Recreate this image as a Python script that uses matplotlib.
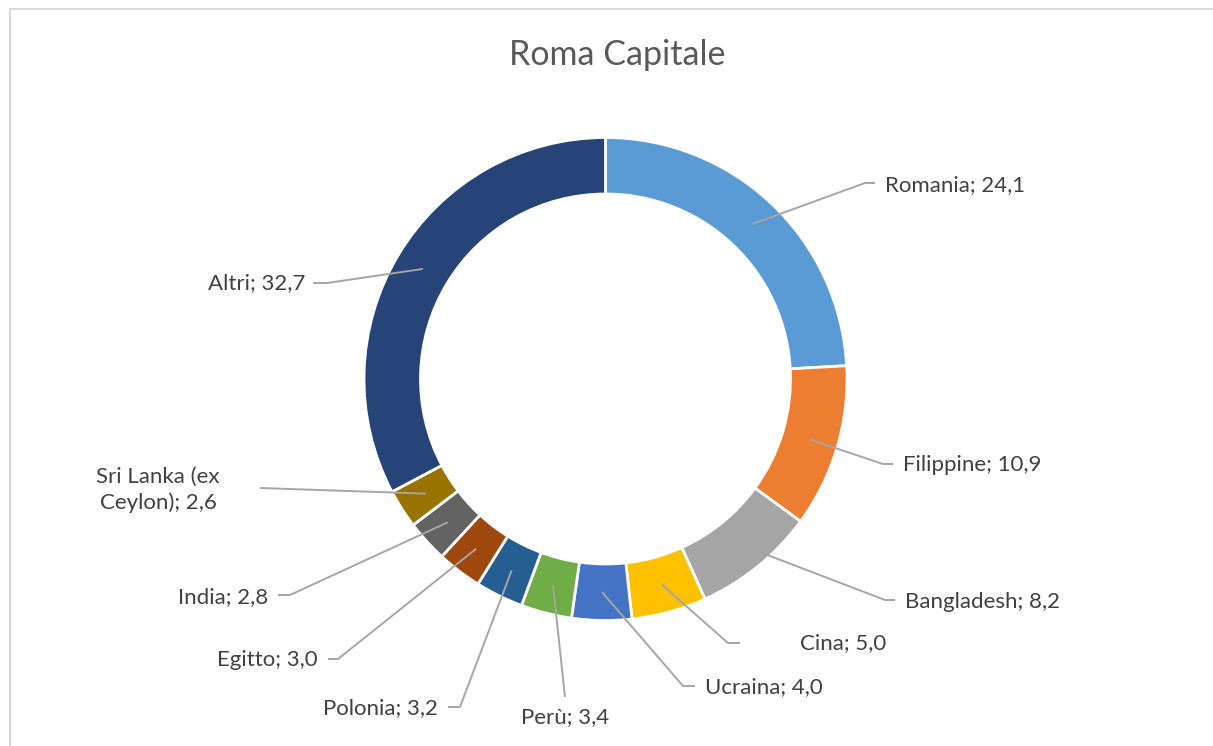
import matplotlib
matplotlib.use("Agg")
import matplotlib.pyplot as plt
from matplotlib.patches import Rectangle
import numpy as np

# ---- data ----
title = "Roma Capitale"
countries = ["Romania", "Filippine", "Bangladesh", "Cina", "Ucraina", "Perù",
             "Polonia", "Egitto", "India", "Sri Lanka (ex\nCeylon)", "Altri"]
values = [24.1, 10.9, 8.2, 5.0, 4.0, 3.4, 3.2, 3.0, 2.8, 2.6, 32.7]
colors = ["#5B9BD5", "#ED7D31", "#A5A5A5", "#FFC000", "#4472C4", "#70AD47",
          "#255E91", "#9E480E", "#636363", "#997300", "#264478"]

# ---- layout (pixel coordinates, y measured from top) ----
W, H = 1213, 746
CX, CY = 605.5, 379
R_OUT, R_IN = 241.5, 185.0

# label anchor (x, y, ha) and leader-line knee points
label_pos = [
    (885, 185, "left"),
    (903, 465, "left"),
    (905, 602, "left"),
    (800, 643, "left"),
    (705, 687, "left"),
    (565, 717, "center"),
    (438, 708, "right"),
    (318, 660, "right"),
    (268, 597, "right"),
    (158, 490, "center"),
    (305, 283, "right"),
]
leader_pts = [
    [(865, 183), (875, 183)],
    [(883, 464), (893, 464)],
    [(885, 600), (895, 600)],
    [(728, 643), (740, 643)],
    [(683, 686), (695, 686)],
    [(565, 697)],
    [(460, 707), (448, 707)],
    [(338, 659), (328, 659)],
    [(290, 595), (278, 595)],
    [(260, 488)],
    [(327, 283), (313, 283)],
]

plt.rcParams["font.family"] = ["Lato", "DejaVu Sans"]

fig = plt.figure(figsize=(W / 100, H / 100), dpi=100)
ax = fig.add_axes([0, 0, 1, 1])


def P(x, y):
    return x, H - y


ax.pie(values, colors=colors, startangle=90, counterclock=False,
       radius=R_OUT, center=P(CX, CY),
       wedgeprops=dict(width=R_OUT - R_IN, edgecolor="white", linewidth=2.0))

ax.set_xlim(0, W)
ax.set_ylim(0, H)
ax.set_aspect("auto")
ax.axis("off")

# border
fig.patches.append(Rectangle((10 / W, -0.1), 1.5, (H - 9) / H + 0.1,
                             transform=fig.transFigure, fill=False,
                             edgecolor="#D9D9D9", linewidth=1.5))

# title
ax.text(*P(617, 55), title, ha="center", va="center", fontsize=24.5,
        color="#595959")

# labels + leader lines
total = sum(values)
cum = 0.0
r_mid = (R_OUT + R_IN) / 2
for name, v, (lx, ly, ha), pts in zip(countries, values, label_pos, leader_pts):
    frac_mid = (cum + v / 2) / total
    cum += v
    ang = np.deg2rad(90 - 360 * frac_mid)
    sx = CX + r_mid * np.cos(ang)
    sy = CY - r_mid * np.sin(ang)
    xs = [sx] + [p[0] for p in pts]
    ys = [H - sy] + [H - p[1] for p in pts]
    ax.plot(xs, ys, color="#A6A6A6", linewidth=1.4, solid_capstyle="butt")
    txt = f"{name}; {v:.1f}".replace(".", ",")
    ax.text(*P(lx, ly), txt, ha=ha, va="center", fontsize=16,
            color="#404040", linespacing=1.3, multialignment="center")

fig.savefig("out.png", dpi=100)
